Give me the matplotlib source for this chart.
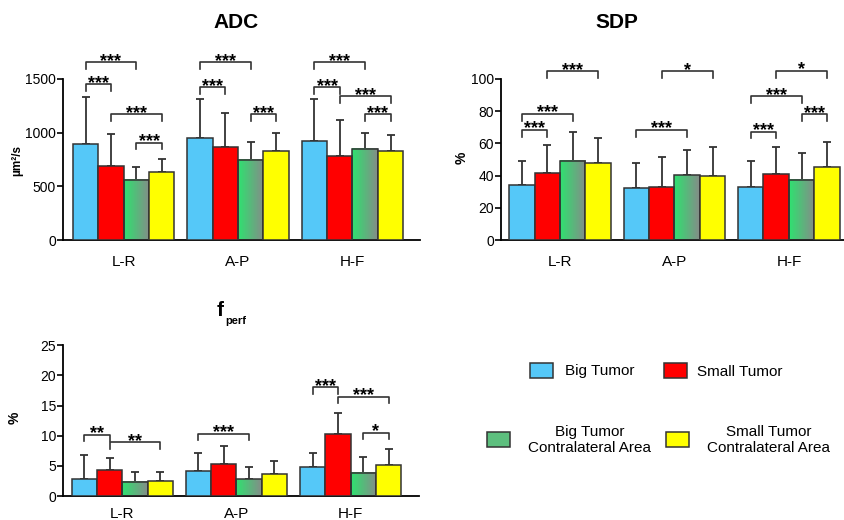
import numpy as np
import matplotlib
matplotlib.use('Agg')
import matplotlib.pyplot as plt
from matplotlib.colors import LinearSegmentedColormap
from matplotlib.patches import Rectangle

plt.rcParams['font.family'] = ['Liberation Sans', 'DejaVu Sans']

categories = ['L-R', 'A-P', 'H-F']
series = ['Big Tumor', 'Small Tumor', 'Big Tumor\nContralateral Area', 'Small Tumor\nContralateral Area']

# rows = series (big, small, big contra, small contra), cols = categories
adc_mean = [[891, 947, 922], [692, 863, 780], [562, 748, 848], [637, 826, 832]]
adc_sd = [[441, 367, 389], [293, 317, 338], [121, 165, 146], [115, 168, 143]]
sdp_mean = [[34.4, 32.5, 33.1], [41.6, 32.9, 41.2], [49.3, 40.2, 37.3], [47.8, 39.5, 45.1]]
sdp_sd = [[14.9, 15.3, 16.2], [17.6, 18.7, 16.8], [17.6, 15.5, 16.5], [15.6, 18.3, 15.6]]
fperf_mean = [[2.87, 4.2, 4.75], [4.31, 5.36, 10.3], [2.38, 2.82, 3.87], [2.55, 3.7, 5.2]]
fperf_sd = [[3.93, 2.9, 2.45], [2.0, 3.0, 3.4], [1.6, 2.04, 2.6], [1.35, 2.1, 2.6]]

# significance brackets: (category, bar a, bar b, height, label)
adc_sig = [(0, 0, 2, 1656, '***'), (0, 0, 1, 1451, '***'), (0, 1, 3, 1171, '***'), (0, 2, 3, 907, '***'),
           (1, 0, 2, 1656, '***'), (1, 0, 1, 1423, '***'), (1, 2, 3, 1171, '***'),
           (2, 0, 2, 1656, '***'), (2, 0, 1, 1423, '***'), (2, 1, 3, 1339, '***'), (2, 2, 3, 1171, '***')]
sdp_sig = [(0, 1, 3, 104.8, '***'), (0, 0, 2, 78.3, '***'), (0, 0, 1, 68.3, '***'),
           (1, 1, 3, 104.8, '*'), (1, 0, 2, 68.3, '***'),
           (2, 1, 3, 105, '*'), (2, 0, 2, 89.2, '***'), (2, 2, 3, 78.1, '***'), (2, 0, 1, 67.3, '***')]
fperf_sig = [(0, 0, 1, 10.2, '**'), (0, 1, 3, 8.9, '**'), (1, 0, 2, 10.3, '***'),
             (2, 0, 1, 18.0, '***'), (2, 1, 3, 16.5, '***'), (2, 2, 3, 10.5, '*')]

blue = '#55c8f8'
red = '#ff0000'
yellow = '#ffff00'
green_leg = '#5dbf7e'
edge = '#333333'
grad = LinearSegmentedColormap.from_list('g', ['#2fe170', '#858c88'])

W = 0.222


def panel(ax, mean, sd, sig, ymax, yticks, xlim, xpad):
    x = np.arange(len(categories))
    for k in range(4):
        xs = x + (k - 1.5) * W
        if k == 2:
            for xi, h in zip(xs, mean[k]):
                ax.imshow(np.linspace(0, 1, 64)[None, :], cmap=grad, aspect='auto',
                          extent=[xi - W / 2, xi + W / 2, 0, h], zorder=2)
            ax.bar(xs, mean[k], W, facecolor='none', edgecolor=edge, linewidth=1.1, zorder=3)
        else:
            col = [blue, red, None, yellow][k]
            ax.bar(xs, mean[k], W, color=col, edgecolor=edge, linewidth=1.1, zorder=3)
        ax.errorbar(xs, mean[k], yerr=[np.zeros(3), sd[k]], fmt='none', ecolor=edge,
                    elinewidth=1.3, capsize=2.6, capthick=1.3, zorder=1)
    drop = 0.042 * ymax
    for c, a, b, y, lab in sig:
        xa = c + (a - 1.5) * W
        xb = c + (b - 1.5) * W
        ax.plot([xa, xa, xb, xb], [y - drop, y, y, y - drop], color=edge, lw=1.2,
                clip_on=False, zorder=4)
        ax.annotate(lab, ((xa + xb) / 2, y), xytext=(0, -2.5), textcoords='offset points',
                    ha='center', va='baseline', fontsize=13, fontweight='bold',
                    annotation_clip=False)
    ax.set_xlim(*xlim)
    ax.set_ylim(0, ymax)
    ax.set_yticks(yticks)
    ax.set_xticks(x)
    ax.set_xticklabels(categories, fontsize=11)
    ax.tick_params(axis='x', length=0, pad=xpad)
    ax.tick_params(axis='y', length=4, width=1.2, labelsize=10, pad=1, colors='black')
    for s in ['top', 'right']:
        ax.spines[s].set_visible(False)
    for s in ['left', 'bottom']:
        ax.spines[s].set_linewidth(1.3)


fig = plt.figure(figsize=(8.45, 5.2), dpi=100)
ax1 = fig.add_axes([63 / 845, 1 - 240 / 520, 357 / 845, 161 / 520])
ax2 = fig.add_axes([501 / 845, 1 - 240 / 520, 344 / 845, 161 / 520])
ax3 = fig.add_axes([63 / 845, 1 - 496 / 520, 356 / 845, 150.7 / 520])

panel(ax1, adc_mean, adc_sd, adc_sig, 1500, [0, 500, 1000, 1500], (-0.53, 2.59), 11)
panel(ax2, sdp_mean, sdp_sd, sdp_sig, 100, [0, 20, 40, 60, 80, 100], (-0.515, 2.49), 11)
panel(ax3, fperf_mean, fperf_sd, fperf_sig, 25, [0, 5, 10, 15, 20, 25], (-0.52, 2.6), 8)

fig.text(236 / 845, 1 - 22 / 520, 'ADC', ha='center', va='center', fontsize=15, fontweight='bold')
fig.text(617 / 845, 1 - 22 / 520, 'SDP', ha='center', va='center', fontsize=15, fontweight='bold')
fig.text(220 / 845, 1 - 311 / 520, 'f', ha='center', va='center', fontsize=15, fontweight='bold')
fig.text(225 / 845, 1 - 321 / 520, 'perf', ha='left', va='center', fontsize=8, fontweight='bold')
fig.text(17 / 845, 1 - 160 / 520, 'µm²/s', rotation=90, ha='center', va='center', fontsize=8.5, fontweight='bold')
fig.text(462 / 845, 1 - 158 / 520, '%', rotation=90, ha='center', va='center', fontsize=10, fontweight='bold')
fig.text(15 / 845, 1 - 418 / 520, '%', rotation=90, ha='center', va='center', fontsize=10, fontweight='bold')

# legend, laid out by hand
def leg_patch(x0, y0, col):
    fig.add_artist(Rectangle((x0 / 845, 1 - (y0 + 15) / 520), 23 / 845, 15 / 520,
                             transform=fig.transFigure, facecolor=col, edgecolor=edge, lw=1.1))

leg_patch(530, 363, blue)
leg_patch(664, 363, red)
leg_patch(487, 432, green_leg)
leg_patch(666, 432, yellow)
fig.text(565 / 845, 1 - 371 / 520, series[0], ha='left', va='center', fontsize=11)
fig.text(697 / 845, 1 - 372 / 520, series[1], ha='left', va='center', fontsize=11)
fig.text(590 / 845, 1 - 440 / 520, series[2], ha='center', va='center', fontsize=11, linespacing=1.1)
fig.text(769 / 845, 1 - 440 / 520, series[3], ha='center', va='center', fontsize=11, linespacing=1.1)

fig.savefig('out.png', dpi=100)
